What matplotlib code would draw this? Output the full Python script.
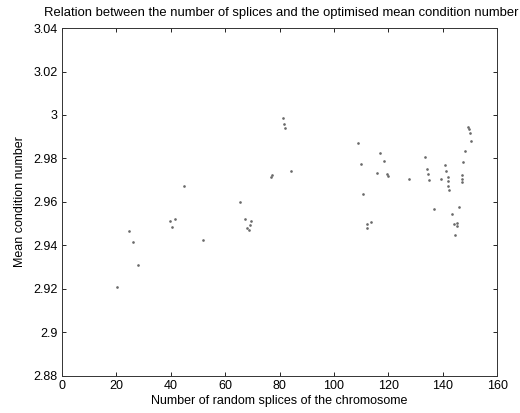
import matplotlib
matplotlib.use("Agg")
import matplotlib.pyplot as plt
from matplotlib.ticker import FuncFormatter

plt.rcParams['font.family'] = ['Liberation Sans', 'DejaVu Sans']

# Number of random splices and the resulting optimised mean condition number
splices = [20.2, 24.6, 26.1, 28.0, 39.7, 40.5, 41.6, 44.9, 51.9,
           65.5, 67.3, 68.0, 68.8, 69.1, 69.5, 76.9, 77.2,
           81.3, 81.7, 82.0, 84.2,
           108.9, 110.0, 110.7, 112.2, 112.2, 113.7, 115.9, 117.0, 118.4,
           119.5, 119.9, 127.6, 133.5, 134.3, 134.6, 135.0, 136.8, 139.4,
           140.9, 141.2, 142.0, 142.0, 142.0, 142.3, 143.4, 144.2, 145.3,
           145.3, 144.6, 146.0, 147.1, 147.1, 147.1, 147.5, 148.2, 149.3,
           149.7, 150.1, 150.4]
mean_cond = [2.9209, 2.9467, 2.9416, 2.9310, 2.9513, 2.9485, 2.9522, 2.9674, 2.9425,
             2.9600, 2.9522, 2.9480, 2.9471, 2.9494, 2.9513, 2.9715, 2.9724,
             2.9986, 2.9959, 2.9940, 2.9743,
             2.9871, 2.9775, 2.9637, 2.9499, 2.9480, 2.9508, 2.9733, 2.9825, 2.9789,
             2.9729, 2.9720, 2.9706, 2.9807, 2.9752, 2.9729, 2.9701, 2.9568, 2.9706,
             2.9770, 2.9743, 2.9715, 2.9697, 2.9674, 2.9655, 2.9545, 2.9499, 2.9503,
             2.9490, 2.9448, 2.9577, 2.9724, 2.9706, 2.9692, 2.9784, 2.9835, 2.9945,
             2.9936, 2.9917, 2.9880]

x_ticks = [0, 20, 40, 60, 80, 100, 120, 140, 160]
y_ticks = [2.88, 2.90, 2.92, 2.94, 2.96, 2.98, 3.00, 3.02, 3.04]

fig = plt.figure(figsize=(5.2, 4.13), dpi=100)
ax = fig.add_axes([0.119, 0.0896, 0.837, 0.8426])

ax.plot(splices, mean_cond, linestyle='none', marker='.', markersize=1.8,
        color='#6a6a6a')

ax.set_xlim(0, 160)
ax.set_ylim(2.88, 3.04)
ax.set_xticks(x_ticks)
ax.set_yticks(y_ticks)
ax.yaxis.set_major_formatter(FuncFormatter(lambda v, p: f"{v:g}"))
ax.tick_params(direction='in', top=True, right=True, length=3,
               labelsize=9, width=0.6, pad=3)
for s in ax.spines.values():
    s.set_linewidth(0.7)
    s.set_color('#333333')

ax.set_title("Relation between the number of splices and the optimised mean condition number",
             fontsize=9.4, pad=9, x=0.505)
ax.set_xlabel("Number of random splices of the chromosome", fontsize=9, labelpad=2)
ax.set_ylabel("Mean condition number", fontsize=9, labelpad=5)

fig.savefig("out.png", dpi=100)
